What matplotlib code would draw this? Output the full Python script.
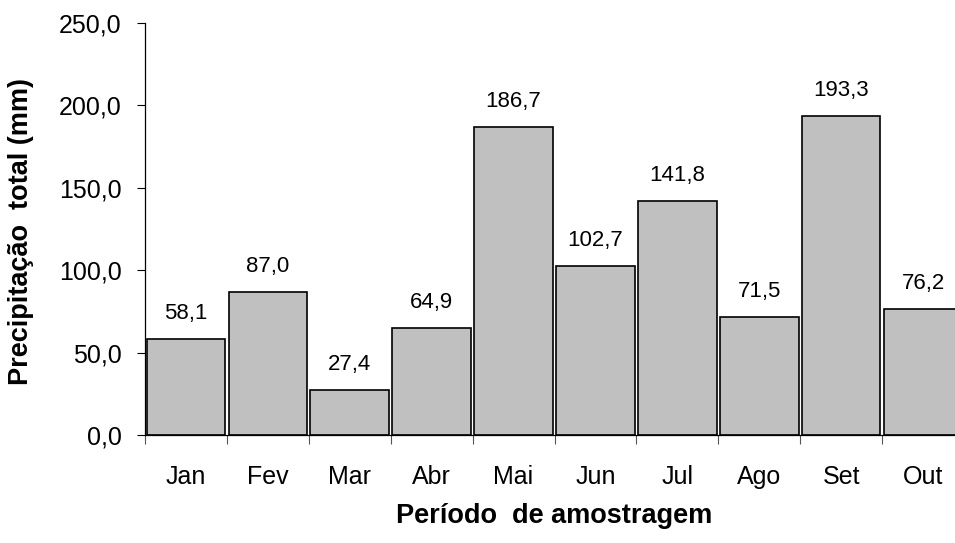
import matplotlib
matplotlib.use("Agg")
import matplotlib.pyplot as plt
import numpy as np

# monthly totals (mm)
months = ['Jan', 'Fev', 'Mar', 'Abr', 'Mai', 'Jun', 'Jul', 'Ago', 'Set', 'Out']
rain = [58.1, 87.0, 27.4, 64.9, 186.7, 102.7, 141.8, 71.5, 193.3, 76.2]
yticks = [0, 50, 100, 150, 200, 250]

plt.rcParams['font.family'] = ['Liberation Sans', 'DejaVu Sans']

fig = plt.figure(figsize=(9.55, 5.43), dpi=100)
ax = fig.add_axes([145/955, 108/543, 819/955, 412/543])

x = np.arange(len(months))
ax.bar(x, rain, width=0.96, color='#C0C0C0', edgecolor='black', linewidth=1.2, zorder=2)

for xi, v in zip(x, rain):
    ax.annotate(f'{v:.1f}'.replace('.', ','), (xi, v), xytext=(0, 14.4),
                textcoords='offset points', ha='center', va='baseline', fontsize=16)

ax.set_xlim(-0.5, len(months) - 0.5)
ax.set_ylim(0, 250)
ax.set_yticks(yticks)
ax.set_yticklabels([f'{t:.1f}'.replace('.', ',') for t in yticks], fontsize=18)

# ticks sit on category boundaries, labels centred on bars
ax.set_xticks(np.arange(len(months) + 1) - 0.5)
ax.set_xticklabels([])
ax.set_xticks(x, minor=True)
ax.set_xticklabels(months, minor=True, fontsize=18)
ax.tick_params(axis='x', which='major', direction='out', length=6.5, width=0.8, color='#555555')
ax.tick_params(axis='x', which='minor', length=0, pad=21.5)
ax.tick_params(axis='y', direction='out', length=6, width=0.8, pad=11)

ax.spines['top'].set_visible(False)
ax.spines['right'].set_visible(False)
ax.spines['left'].set_linewidth(0.9)
ax.spines['bottom'].set_linewidth(0.9)

ax.set_ylabel('Precipitação  total (mm)', fontsize=19.5, fontweight='bold', va='center')
ax.yaxis.set_label_coords(-0.152, 0.495)
ax.set_xlabel('Período  de amostragem', fontsize=19.5, fontweight='bold', va='center')
ax.xaxis.set_label_coords(0.5, -0.197)

fig.savefig('out.png', dpi=100)
